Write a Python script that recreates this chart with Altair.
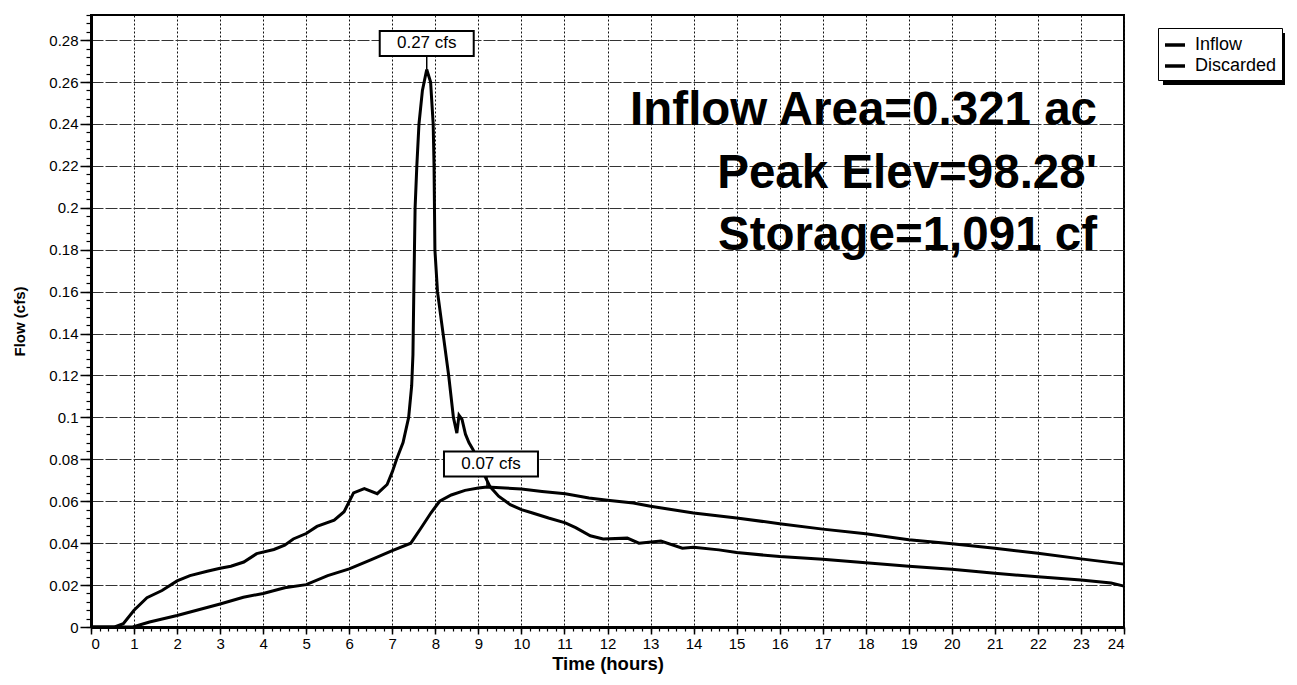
import altair as alt
import pandas as pd

FONT = "Liberation Sans"

# ---- data ----
inflow_t = [0, 0.55, 0.75, 1.0, 1.3, 1.65, 2.0, 2.3, 2.7, 3.0, 3.25, 3.55, 3.85, 4.25, 4.5, 4.7,
            5.0, 5.25, 5.65, 5.88, 6.1, 6.35, 6.65, 6.88, 7.0, 7.1, 7.25, 7.38, 7.45, 7.48, 7.5,
            7.53, 7.57, 7.62, 7.7, 7.8, 7.89, 7.95, 7.97, 7.99, 8.05, 8.18, 8.31, 8.42, 8.5,
            8.55, 8.62, 8.7, 8.78, 8.88, 9.08, 9.27, 9.47, 9.74, 10.0, 10.24, 10.63, 11.02,
            11.26, 11.6, 11.9, 12.46, 12.73, 13.24, 13.74, 14.0, 14.59, 15, 16, 17, 18, 19,
            20, 21, 22, 23, 23.7, 24]
inflow_v = [0, 0, 0.0016, 0.008, 0.014, 0.0174, 0.022, 0.0245, 0.0266, 0.028, 0.029, 0.031,
            0.035, 0.037, 0.039, 0.042, 0.0446, 0.048, 0.051, 0.055, 0.064, 0.066, 0.0636,
            0.068, 0.074, 0.08, 0.088, 0.1, 0.115, 0.13, 0.16, 0.2, 0.22, 0.24, 0.256, 0.266,
            0.26, 0.24, 0.22, 0.18, 0.16, 0.14, 0.12, 0.1, 0.0925, 0.101, 0.099, 0.092, 0.088,
            0.0845, 0.075, 0.067, 0.0624, 0.0584, 0.056, 0.0545, 0.052, 0.0497, 0.0474,
            0.0435, 0.042, 0.0424, 0.040, 0.041, 0.0376, 0.038, 0.0368, 0.0355, 0.0336,
            0.0323, 0.0307, 0.029, 0.0275, 0.0256, 0.024, 0.0224, 0.021, 0.0195]

disc_t = [0, 0.97, 1.36, 2, 3, 3.54, 4, 4.5, 5, 5.5, 6, 6.5, 7, 7.43, 7.66, 7.9, 8.1, 8.37,
          8.69, 9.0, 9.2, 9.62, 10, 10.48, 11.02, 11.57, 12, 12.6, 13, 14, 15, 16, 17, 18, 19,
          20, 21, 22, 23, 24]
disc_v = [0, 0, 0.0024, 0.0055, 0.011, 0.0142, 0.016, 0.0187, 0.0202, 0.0245, 0.0277, 0.032,
          0.0364, 0.040, 0.047, 0.0545, 0.06, 0.063, 0.0652, 0.0663, 0.0668, 0.0663, 0.0658,
          0.0647, 0.0636, 0.0616, 0.0605, 0.0592, 0.0576, 0.0544, 0.052, 0.0493, 0.0467,
          0.0445, 0.0416, 0.0397, 0.0376, 0.0352, 0.0325, 0.030]

series_names = ["Inflow", "Discarded"]

peak_t = [7.8, 9.2]
peak_v = [0.266, 0.0668]
peak_labels = ["0.27 cfs", "0.07 cfs"]

info_lines = ["Inflow Area=0.321 ac", "Peak Elev=98.28'", "Storage=1,091 cf"]

x_ticks = list(range(0, 25))
y_ticks = [0, 0.02, 0.04, 0.06, 0.08, 0.1, 0.12, 0.14, 0.16, 0.18, 0.2, 0.22, 0.24, 0.26, 0.28]
x_minor = [round(i * 0.2, 2) for i in range(121)]
y_minor = [round(i * 0.004, 3) for i in range(74)]

# ---- tables ----
df = pd.concat([
    pd.DataFrame({"t": inflow_t, "v": inflow_v, "series": "Inflow"}),
    pd.DataFrame({"t": disc_t, "v": disc_v, "series": "Discarded"}),
], ignore_index=True)

xscale = alt.Scale(domain=[0, 24], nice=False, zero=False)
yscale = alt.Scale(domain=[0, 0.292], nice=False, zero=False)

main_x_axis = alt.Axis(values=x_ticks, orient="bottom", title="Time  (hours)", grid=True,
                       gridDash=[2, 2], gridColor="#111", gridWidth=1,
                       tickSize=7, tickWidth=1.5, tickColor="black",
                       domainColor="black", domainWidth=3,
                       labelFont=FONT, labelFontSize=15, labelColor="black", labelPadding=2,
                       titleFont=FONT, titleFontSize=18.5, titleFontWeight="bold",
                       titleColor="black", titlePadding=3)
main_y_axis = alt.Axis(values=y_ticks, orient="left", format="~g", title="Flow  (cfs)",
                       grid=True, gridColor="#333", gridWidth=1, gridDash=[12, 2],
                       tickSize=11, tickWidth=1.5, tickColor="black",
                       domainColor="black", domainWidth=3,
                       labelFont=FONT, labelFontSize=15, labelColor="black", labelPadding=2,
                       titleFont=FONT, titleFontSize=15, titleFontWeight="bold",
                       titleColor="black", titlePadding=21)

lines = alt.Chart(df).mark_line(strokeWidth=3).encode(
    x=alt.X("t:Q", scale=xscale, axis=main_x_axis),
    y=alt.Y("v:Q", scale=yscale, axis=main_y_axis),
    color=alt.Color("series:N",
                    scale=alt.Scale(domain=series_names, range=["black", "black"]),
                    legend=alt.Legend(title=None, orient="none", legendX=1067, legendY=13,
                                      symbolType="stroke", symbolStrokeWidth=3.5,
                                      symbolSize=400, labelFont=FONT, labelFontSize=18,
                                      labelColor="black", strokeColor="black",
                                      fillColor="white", padding=5, rowPadding=0,
                                      labelOffset=8)),
    order=alt.Order("t:Q"),
)

minor = alt.Chart(df).mark_line(opacity=0).encode(
    x=alt.X("t:Q", scale=xscale,
            axis=alt.Axis(values=x_minor, orient="bottom", labels=False, grid=False,
                          domain=False, tickSize=4, tickWidth=1.2, tickColor="black",
                          title=None)),
    y=alt.Y("v:Q", scale=yscale,
            axis=alt.Axis(values=y_minor, orient="left", labels=False, grid=False,
                          domain=False, tickSize=5, tickWidth=1.2, tickColor="black",
                          title=None)),
    detail="series:N",
)

peaks = pd.DataFrame({"t": peak_t, "v": peak_v, "label": peak_labels})
box_path = "M-1,-0.266L1,-0.266L1,0.266L-1,0.266Z"


def peak_marks(i, dx, dy):
    d = peaks.iloc[[i]]
    enc = dict(x=alt.X("t:Q", scale=xscale, axis=None),
               y=alt.Y("v:Q", scale=yscale, axis=None))
    base = alt.Chart(d).encode(**enc)
    rule = alt.Chart(d).mark_rule(color="black", strokeWidth=1.5, y2Offset=dy + 12).encode(
        y2="v:Q", **enc)
    box = base.mark_point(shape=box_path, size=94 * 94, filled=True, fill="white",
                          stroke="black", strokeWidth=2, opacity=1,
                          xOffset=dx, yOffset=dy)
    txt = base.mark_text(font=FONT, fontSize=17, color="black", align="center",
                         baseline="middle", dx=dx, dy=dy).encode(text="label:N")
    return [rule, box, txt]


info = alt.Chart(pd.DataFrame({"k": [0]})).mark_text(
    font=FONT, fontSize=47.5, fontWeight="bold", color="black", align="right",
    baseline="alphabetic", lineHeight=62.5, text=info_lines
).encode(x=alt.value(1006), y=alt.value(110))

shadow = alt.Chart(pd.DataFrame({"k": [0]})).mark_rect(color="black").encode(
    x=alt.value(1072), x2=alt.value(1194), y=alt.value(18), y2=alt.value(70))

chart = alt.layer(
    minor, info, shadow, lines, *peak_marks(0, 0, -26), *peak_marks(1, 4, -23)
).resolve_axis(x="independent", y="independent").properties(
    width=1033, height=612,
    autosize=alt.AutoSizeParams(type="none"),
    padding={"left": 83, "top": 7, "right": 165, "bottom": 48},
    background="white",
).configure_view(stroke="black", strokeWidth=2)

chart.save("out.html", embed_options={"renderer": "svg", "actions": False})
